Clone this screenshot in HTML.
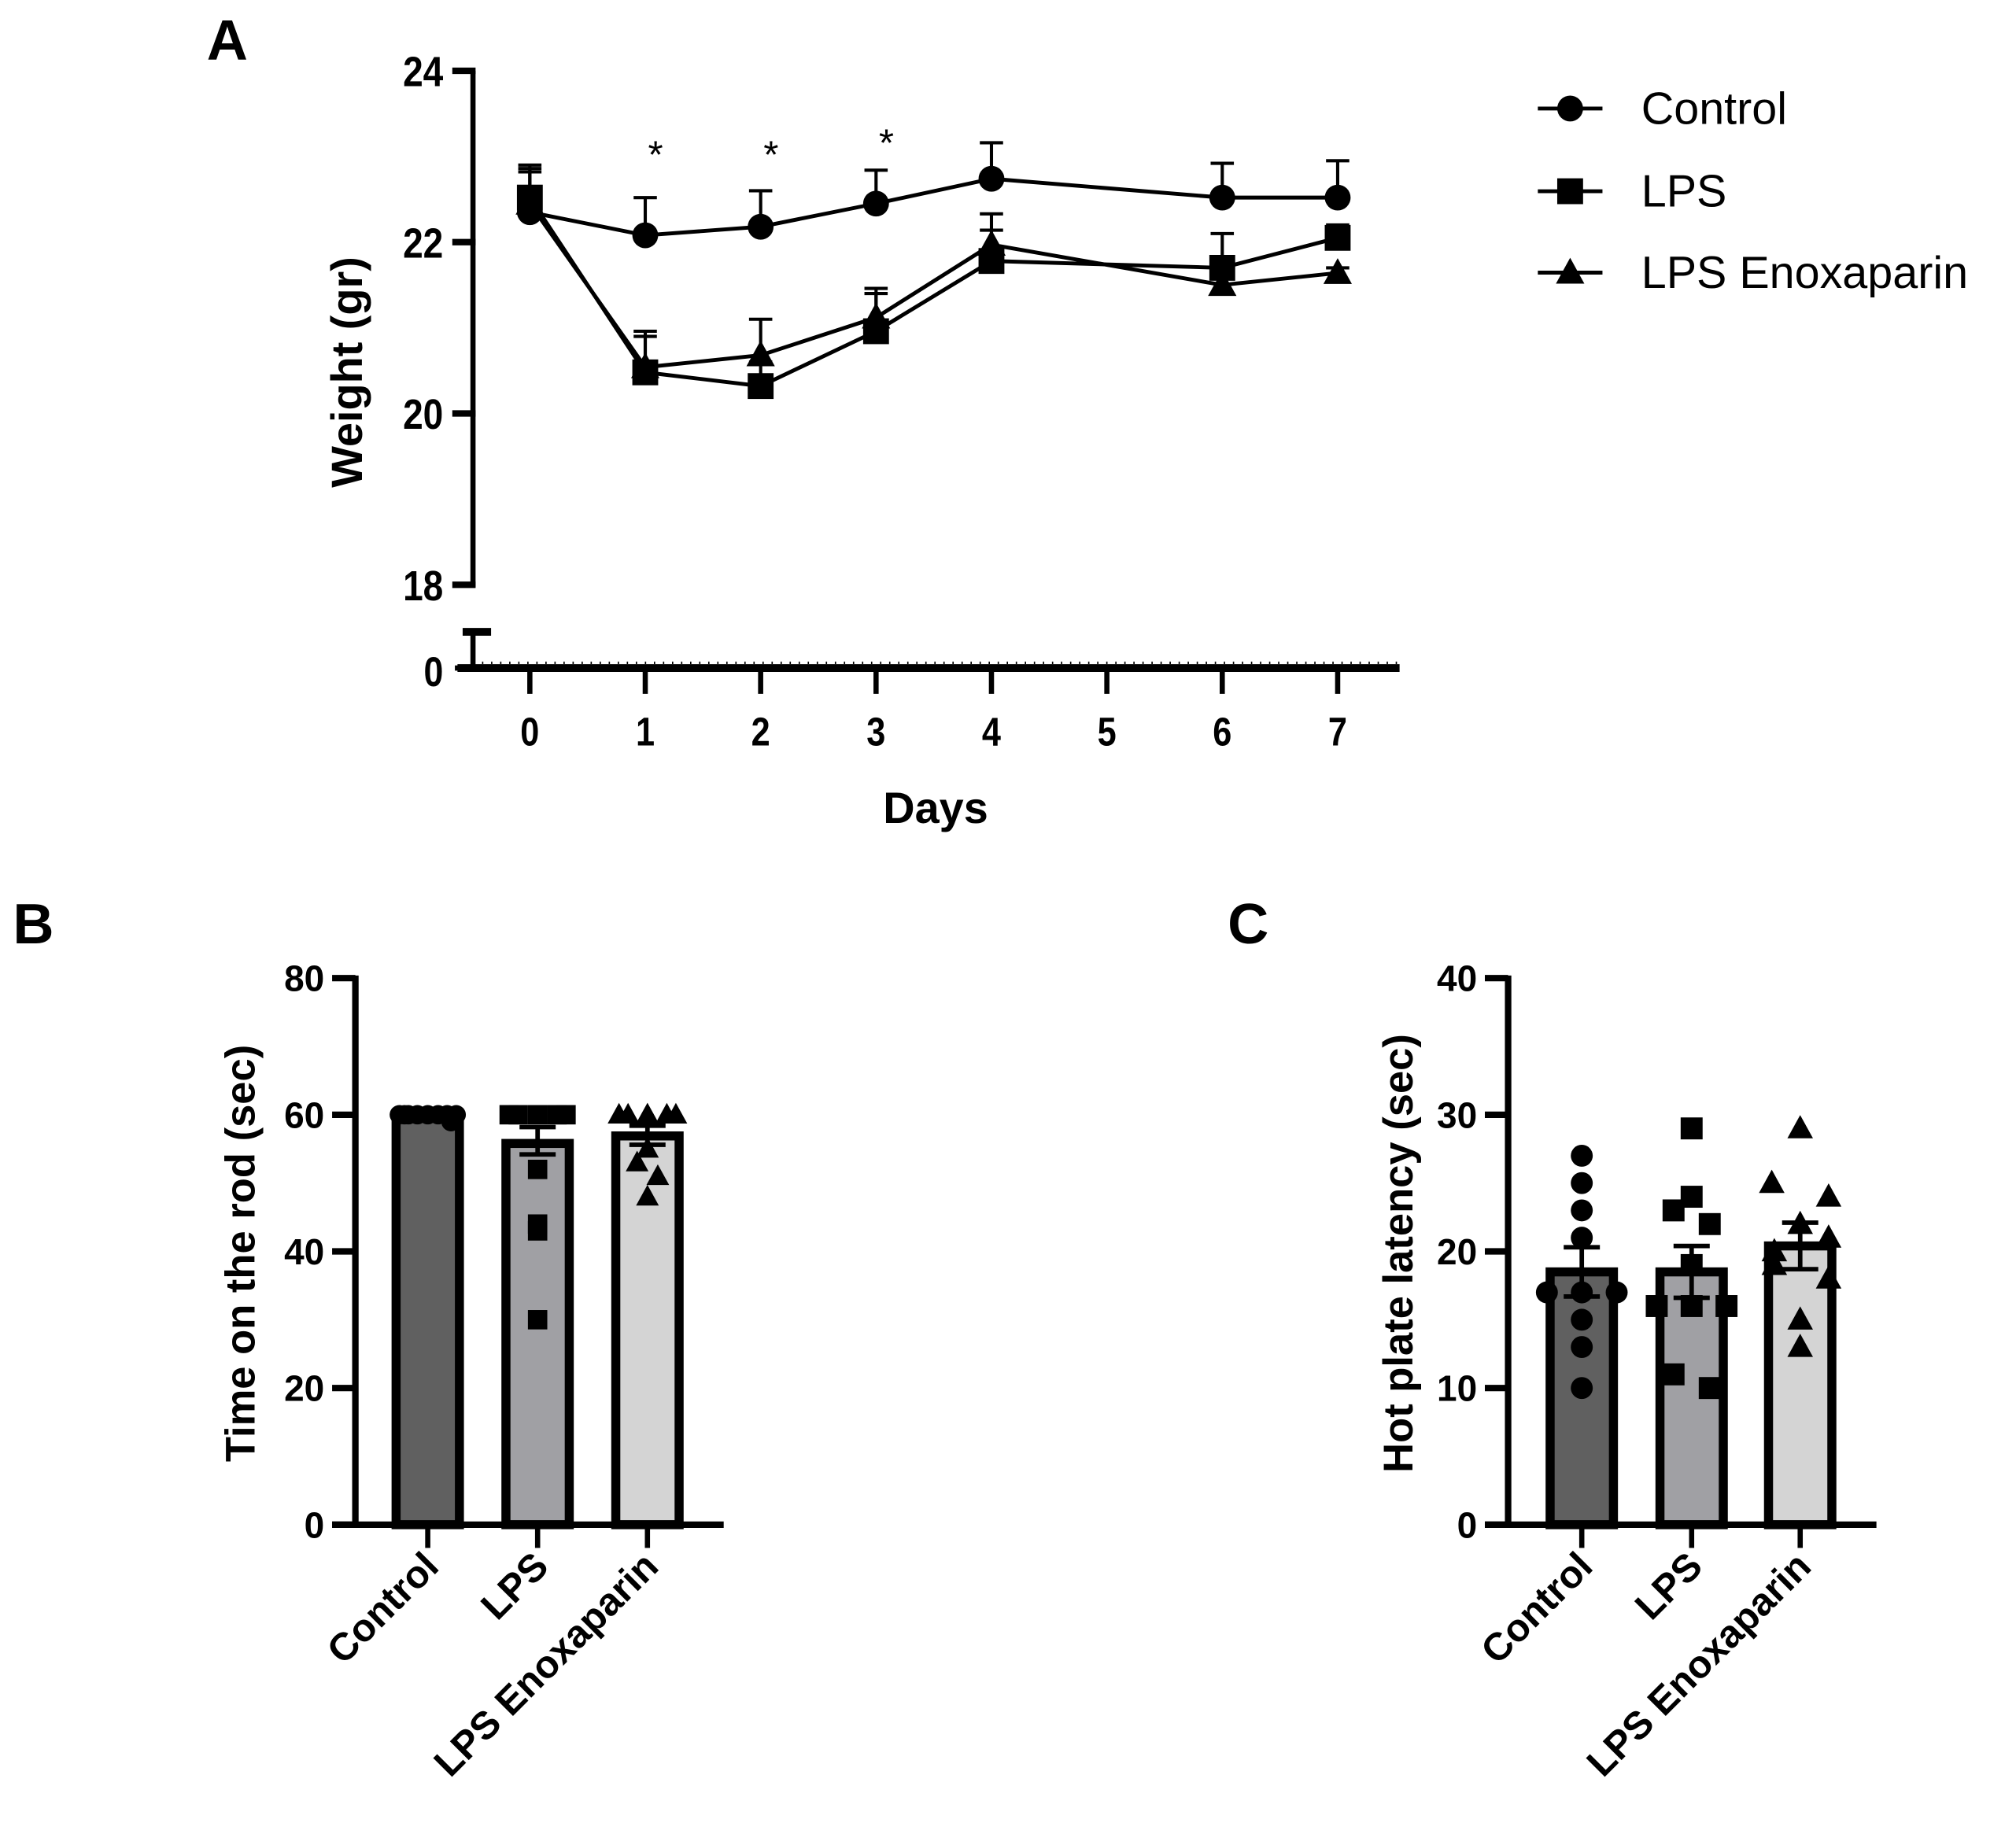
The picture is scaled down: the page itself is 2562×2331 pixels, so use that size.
<!DOCTYPE html>
<html><head><meta charset="utf-8"><style>
html,body{margin:0;padding:0;background:#fff}
svg{display:block}
text{font-family:"Liberation Sans",Arial,sans-serif;font-weight:bold;fill:#000}
text.norm{font-weight:normal}
</style></head><body>
<svg id="fig" width="2562" height="2331" viewBox="0 0 1560 1419.4" preserveAspectRatio="none" xmlns="http://www.w3.org/2000/svg">
<text x="160" y="46" font-size="44">A</text>
<text x="10" y="730" font-size="44">B</text>
<text x="950" y="730" font-size="44">C</text>
<g id="pa"></g>
<g id="pb"></g>
<g id="pc"></g>
</svg>
<script>
const days=[0,1,2,3,4,6,7];
const ctrlW=[22.35,22.08,22.18,22.45,22.74,22.52,22.52];
const ctrlErr=[22.9,22.52,22.6,22.84,23.16,22.92,22.95];
const lpsW=[22.52,20.48,20.32,20.96,21.78,21.7,22.05];
const lpsErr=[22.86,20.9,20.6,21.4,22.14,22.1,22.2];
const enoxW=[22.45,20.54,20.68,21.12,21.97,21.5,21.64];
const enoxErr=[22.82,20.96,21.1,21.46,22.33,21.6,21.7];
const starDays=[1,2,3];
const weightTicks=[18,20,22,24];
const dayTicks=[0,1,2,3,4,5,6,7];
const groups=["Control","LPS","LPS Enoxaparin"];
const rodMean=[59.8,55.8,56.9];
const rodErrLo=[59.8,54.2,55.6];
const rodErrHi=[59.8,58.2,58.4];
const rodPts=[[60,60,60,60,60,60,60,60,59,59],[60,60,60,60,60,52,44,43,30],[60,60,60,60,60,60,55,53,51,48]];
const rodTicks=[0,20,40,60,80];
const hotMean=[18.5,18.5,20.4];
const hotSem=[1.8,1.9,1.7];
const hotPts=[[27,25,23,21,17,17,17,15,13,10],[29,24,23,22,19,16,16,16,11,10],[29,25,24,22,21,20,19,18,15,13]];
const hotJit=[[0,0,0,0,-27,0,27,0,0,0],[0,0,-14,14,0,-27,0,27,-14,14],[0,-22,22,0,22,-20,-20,22,0,0]];
const rodJit=[[0,-15,15,-22,22,-8,8,-18,18,18],[0,-15,15,-22,22,0,0,0,0],[0,-15,15,-22,22,0,0,-8,8,0]];
const hotTicks=[0,10,20,30,40];
const fills=["#606060","#a0a0a4","#d4d4d4"];

const NS="http://www.w3.org/2000/svg";
function mk(p,tag,a,txt){const e=document.createElementNS(NS,tag);for(const k in a)e.setAttribute(k,a[k]);if(txt!==undefined)e.textContent=txt;p.appendChild(e);return e;}
function marker(p,kind,x,y,s){
  let e;
  if(kind===0)e=mk(p,'circle',{cx:x,cy:y,r:s});
  else if(kind===1)e=mk(p,'rect',{x:x-s,y:y-s,width:2*s,height:2*s});
  else e=mk(p,'polygon',{points:`${x},${y-s*1.15} ${x-s*1.1},${y+s*0.85} ${x+s*1.1},${y+s*0.85}`});
  return e;
}
const A=document.getElementById('pa');
const ax=d=>410+d*89.3;
const ay=v=>452.6-(v-18)*66.3;
let e;
e=mk(A,'line',{x1:366,y1:ay(24),x2:366,y2:ay(18)+2,stroke:'#000','stroke-width':4});


mk(A,'line',{x1:366,y1:488,x2:366,y2:517,stroke:'#000','stroke-width':4});
mk(A,'line',{x1:358,y1:489,x2:380,y2:489,stroke:'#000','stroke-width':6});
e=mk(A,'line',{x1:354,y1:517,x2:1083,y2:517,stroke:'#000','stroke-width':6});


mk(A,'line',{x1:366,y1:513,x2:1083,y2:513,stroke:'#000','stroke-width':2,'stroke-dasharray':'1 6'});
mk(A,'line',{x1:352,y1:517,x2:366,y2:517,stroke:'#000','stroke-width':4});
mk(A,'text',{x:343,y:531,'font-size':32,'text-anchor':'end',transform:'translate(343,0) scale(0.85,1) translate(-343,0)'},'0');
weightTicks.forEach(v=>{
  mk(A,'line',{x1:350,y1:ay(v),x2:368,y2:ay(v),stroke:'#000','stroke-width':5});
  e=mk(A,'text',{x:343,y:ay(v)+12,'font-size':33,'text-anchor':'end',transform:'translate(343,0) scale(0.85,1) translate(-343,0)'},String(v));
  
  
});
dayTicks.forEach(d=>{
  mk(A,'line',{x1:ax(d),y1:517,x2:ax(d),y2:537,stroke:'#000','stroke-width':4});
  e=mk(A,'text',{x:ax(d),y:577,'font-size':31,'text-anchor':'middle',transform:`translate(${ax(d)},0) scale(0.85,1) translate(${-ax(d)},0)`},String(d));
  
  
});
e=mk(A,'text',{x:724,y:637,'font-size':34,'text-anchor':'middle'},'Days');


e=mk(A,'text',{x:0,y:0,'font-size':34,'text-anchor':'middle',transform:'translate(280,288) rotate(-90)'},'Weight (gr)');


const series=[[ctrlW,ctrlErr,0,'control'],[lpsW,lpsErr,1,'lps'],[enoxW,enoxErr,2,'lps-enoxaparin']];
series.forEach(([w,er,k,nm])=>{
  const g=mk(A,'g',{});
  
  
  days.forEach((d,i)=>{
    mk(g,'line',{x1:ax(d),y1:ay(w[i]),x2:ax(d),y2:ay(er[i]),stroke:'#000','stroke-width':2.5});
    mk(g,'line',{x1:ax(d)-9,y1:ay(er[i]),x2:ax(d)+9,y2:ay(er[i]),stroke:'#000','stroke-width':2.5});
  });
  mk(g,'polyline',{points:days.map((d,i)=>ax(d)+','+ay(w[i])).join(' '),fill:'none',stroke:'#000','stroke-width':3});
  days.forEach((d,i)=>{const m=marker(g,k,ax(d),ay(w[i]),10);
    
    });
});
starDays.forEach((d,i)=>{
  e=mk(A,'text',{x:ax(d)+8,y:[130,130,121][i],'font-size':30,'text-anchor':'middle','class':'norm'},'*');
  
  
});
const legNames=["Control","LPS","LPS Enoxaparin"];
legNames.forEach((n,i)=>{
  const y=[84,148,211][i];
  const g=mk(A,'g',{});
  
  
  mk(g,'line',{x1:1190,y1:y,x2:1240,y2:y,stroke:'#000','stroke-width':3});
  marker(g,i,1215,y,10);
  mk(g,'text',{x:1270,y:y+12,'font-size':35,'class':'norm'},n);
});
function barPanel(P,xAxis,x0,x1,centers,yMax,ticks,means,lo,hi,pts,jit,ms,title,ttx){
  const y0=1180, yTop=757;
  const sy=v=>y0-(v/yMax)*(y0-yTop);
  const bw=56;
  centers.forEach((c,i)=>{
    const r=mk(P,'rect',{x:c-bw/2+3.5,y:sy(means[i]),width:bw-7,height:y0-sy(means[i]),fill:fills[i],stroke:'#000','stroke-width':7});
    
    
    pts[i].forEach((v,j)=>{
      const m=marker(P,i,c+jit[i][j],sy(v),i===2?ms+0.5:ms);
      
      
    });
    mk(P,'line',{x1:c,y1:sy(lo[i]),x2:c,y2:sy(hi[i]),stroke:'#000','stroke-width':3.5});
    mk(P,'line',{x1:c-14,y1:sy(lo[i]),x2:c+14,y2:sy(lo[i]),stroke:'#000','stroke-width':3.5});
    mk(P,'line',{x1:c-14,y1:sy(hi[i]),x2:c+14,y2:sy(hi[i]),stroke:'#000','stroke-width':3.5});
  });
  let e=mk(P,'line',{x1:xAxis,y1:yTop-2,x2:xAxis,y2:y0+2,stroke:'#000','stroke-width':5});
  
  
  e=mk(P,'line',{x1:x0,y1:y0,x2:x1,y2:y0,stroke:'#000','stroke-width':5});
  
  
  ticks.forEach(v=>{
    mk(P,'line',{x1:xAxis-18,y1:sy(v),x2:xAxis,y2:sy(v),stroke:'#000','stroke-width':5});
    e=mk(P,'text',{x:xAxis-24,y:sy(v)+10,'font-size':28,'text-anchor':'end'},String(v));
    
    
  });
  centers.forEach((c,i)=>{
    mk(P,'line',{x1:c,y1:y0,x2:c,y2:y0+18,stroke:'#000','stroke-width':4});
    e=mk(P,'text',{x:0,y:0,'font-size':30,'text-anchor':'end',transform:`translate(${c+10},${y0+34}) rotate(-45)`},groups[i]);
    
    
  });
  e=mk(P,'text',{x:0,y:0,'font-size':32,'text-anchor':'middle',transform:`translate(${ttx},970) rotate(-90)`},title);
  
  
}
barPanel(document.getElementById('pb'),275,257,560,[331,416,501],80,rodTicks,rodMean,rodErrLo,rodErrHi,rodPts,rodJit,7.5,'Time on the rod (sec)',197);
const hotLo=hotMean.map((m,i)=>m-hotSem[i]), hotHi=hotMean.map((m,i)=>m+hotSem[i]);
barPanel(document.getElementById('pc'),1167,1149,1452,[1224,1309,1393],40,hotTicks,hotMean,hotLo,hotHi,hotPts,hotJit,8.5,'Hot plate latency (sec)',1093);
</script>
</body></html>
